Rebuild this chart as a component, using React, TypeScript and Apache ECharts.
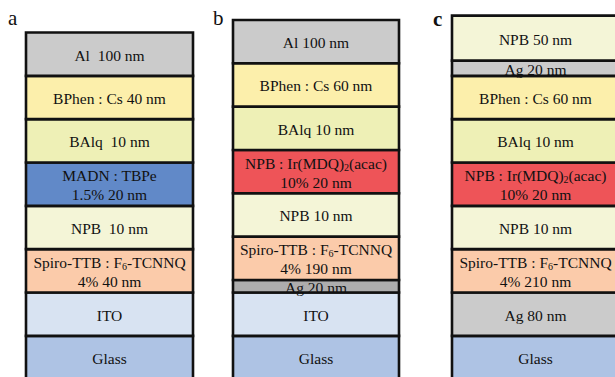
import React, { useEffect, useRef } from "react";
import * as echarts from "echarts";

// Device stacks, listed from the top layer down to the substrate.
const panelLetters = ["a", "b", "c"];

const layersA = [
  "Al  100 nm",
  "BPhen : Cs 40 nm",
  "BAlq  10 nm",
  "MADN : TBPe\n1.5% 20 nm",
  "NPB  10 nm",
  "Spiro-TTB : F{sub|6}-TCNNQ\n4% 40 nm",
  "ITO",
  "Glass",
];
const materialsA = ["Al", "BPhenCs", "BAlq", "MADN", "NPB", "Spiro", "ITO", "Glass"];
const rowsA = [1, 1, 1, 1, 1, 1, 1, 1];

const layersB = [
  "Al 100 nm",
  "BPhen : Cs 60 nm",
  "BAlq 10 nm",
  "NPB : Ir(MDQ){sub|2}(acac)\n10% 20 nm",
  "NPB 10 nm",
  "Spiro-TTB : F{sub|6}-TCNNQ\n4% 190 nm",
  "Ag 20 nm",
  "ITO",
  "Glass",
];
const materialsB = ["Al", "BPhenCs", "BAlq", "NPBIr", "NPB", "Spiro", "AgThin", "ITO", "Glass"];
const rowsB = [1, 1, 1, 1, 1, 1, 0.29, 1, 1];

const layersC = [
  "NPB 50 nm",
  "Ag 20 nm",
  "BPhen : Cs 60 nm",
  "BAlq 10 nm",
  "NPB : Ir(MDQ){sub|2}(acac)\n10% 20 nm",
  "NPB 10 nm",
  "Spiro-TTB : F{sub|6}-TCNNQ\n4% 210 nm",
  "Ag 80 nm",
  "Glass",
];
const materialsC = ["NPB", "Ag", "BPhenCs", "BAlq", "NPBIr", "NPB", "Spiro", "Ag", "Glass"];
const rowsC = [1.04, 0.35, 1, 1, 1, 1, 1, 1, 1];

// Fill colour for each material
const materialColor: Record<string, string> = {
  Al: "#cbcbcb",
  BPhenCs: "#fcefab",
  BAlq: "#eef0b6",
  MADN: "#6189c8",
  NPB: "#f4f5d7",
  Spiro: "#fbcbaa",
  ITO: "#d8e3f2",
  Glass: "#aec3e4",
  NPBIr: "#ee5458",
  AgThin: "#adadad",
  Ag: "#cbcbcb",
};

// Horizontal extent of each stack on the x axis
const STACK_X = [
  [26, 193],
  [233, 399],
  [452, 619],
];

const SERIF = "'Liberation Serif', 'DejaVu Serif', serif";

type Layer = { stack: number; bottom: number; top: number; label: string; material: string };

function buildLayers(): Layer[] {
  const stacks = [
    [layersA, materialsA, rowsA],
    [layersB, materialsB, rowsB],
    [layersC, materialsC, rowsC],
  ] as [string[], string[], number[]][];
  const out: Layer[] = [];
  stacks.forEach(([labels, mats, rows], s) => {
    // accumulate from the substrate upwards
    let y = 0;
    for (let i = labels.length - 1; i >= 0; i--) {
      out.push({ stack: s, bottom: y, top: y + rows[i], label: labels[i], material: mats[i] });
      y += rows[i];
    }
  });
  return out;
}

export default function App() {
  const ref = useRef<HTMLDivElement>(null);

  useEffect(() => {
    document.body.style.margin = "0";
    if (!ref.current) return;
    const chart = echarts.init(ref.current, undefined, { renderer: "svg" });
    const layers = buildLayers();

    const option: echarts.EChartsOption = {
      animation: false,
      backgroundColor: "#ffffff",
      grid: { left: 0, right: 0, top: 0, bottom: 0 },
      xAxis: { type: "value", min: 0, max: 615, show: false },
      // the substrate runs slightly past the lower edge of the view
      yAxis: { type: "value", min: 0.05, max: 8.75, show: false },
      graphic: panelLetters.map((t, i) => ({
        type: "text",
        left: [8, 213, 433][i],
        top: [7, 7, 8][i],
        style: {
          text: t,
          font: `${i === 2 ? "bold " : ""}21px ${SERIF}`,
          fill: "#111",
        },
      })),
      series: [
        {
          type: "custom",
          coordinateSystem: "cartesian2d",
          clip: false,
          data: layers.map((l) => [l.stack, l.bottom, l.top]),
          renderItem: (params: any, api: any) => {
            const l = layers[params.dataIndex];
            const [x0, x1] = STACK_X[l.stack];
            const p0 = api.coord([x0, l.top]);
            const p1 = api.coord([x1, l.bottom]);
            const w = p1[0] - p0[0];
            const h = p1[1] - p0[1];
            return {
              type: "group",
              children: [
                {
                  type: "rect",
                  shape: { x: p0[0], y: p0[1], width: w, height: h },
                  style: { fill: materialColor[l.material], stroke: "#111", lineWidth: 2.6 },
                },
                {
                  type: "text",
                  x: p0[0] + w / 2,
                  y: p0[1] + h / 2 + 1,
                  style: {
                    text: l.label,
                    fill: "#111",
                    fontFamily: SERIF,
                    fontSize: 15.5,
                    lineHeight: 19,
                    align: "center",
                    verticalAlign: "middle",
                    rich: {
                      sub: {
                        fontFamily: SERIF,
                        fontSize: 10,
                        lineHeight: 19,
                        padding: [8, 0, 0, 0],
                        fill: "#111",
                      },
                    },
                  },
                },
              ],
            };
          },
        },
      ],
    };
    chart.setOption(option);
    return () => chart.dispose();
  }, []);

  return <div ref={ref} style={{ width: 615, height: 377 }} />;
}
